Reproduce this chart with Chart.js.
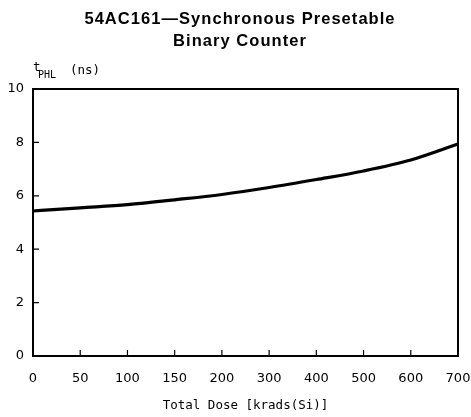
<!DOCTYPE html>
<html><head><meta charset="utf-8">
<script src="https://cdn.jsdelivr.net/npm/chart.js@4/dist/chart.umd.min.js"></script>
<style>html,body{margin:0;padding:0;background:#fff}#wrap{width:471px;height:417px}</style>
</head><body><div id="wrap"><canvas id="c" width="471" height="417"></canvas></div>
<script>
const titleLines = ["54AC161\u2014Synchronous Presetable", "Binary Counter"];
const doseLabels = ["0","50","100","150","200","300","400","500","600","700"];
const tphl = [5.43, 5.55, 5.67, 5.85, 6.05, 6.31, 6.61, 6.93, 7.34, 7.94];
const yTicks = [0, 2, 4, 6, 8, 10];
const xTitle = "Total Dose [krads(Si)]";

const MONO = "'DejaVu Sans Mono', monospace";
const SANS = "'DejaVu Sans', sans-serif";

const deco = {
  id: 'deco',
  afterDraw(chart) {
    const ctx = chart.ctx, a = chart.chartArea;
    const xs = chart.scales.x, ys = chart.scales.y;
    ctx.save();
    ctx.strokeStyle = '#000';
    ctx.lineWidth = 2;
    ctx.strokeRect(a.left, a.top, a.right - a.left, a.bottom - a.top);
    ctx.lineWidth = 1.2;
    ctx.beginPath();
    for (let i = 1; i < doseLabels.length - 1; i++) {
      const px = xs.getPixelForValue(i);
      ctx.moveTo(px, a.bottom); ctx.lineTo(px, a.bottom - 6);
    }
    for (const v of yTicks.slice(1, -1)) {
      const py = ys.getPixelForValue(v);
      ctx.moveTo(a.left, py); ctx.lineTo(a.left + 6, py);
    }
    ctx.stroke();
    ctx.fillStyle = '#000';
    ctx.textAlign = 'center';
    ctx.textBaseline = 'alphabetic';
    ctx.font = "bold 16.5px 'Liberation Sans', Arial, sans-serif";
    ctx.letterSpacing = '1.05px';
    ctx.fillText(titleLines[0], 240, 24);
    ctx.fillText(titleLines[1], 240, 46);
    ctx.letterSpacing = '0px';
    ctx.textBaseline = 'middle';
    ctx.textAlign = 'left';
    ctx.font = "12.5px " + MONO;
    ctx.fillText("t", 33, 68);
    ctx.font = "10px " + MONO;
    ctx.fillText("PHL", 38, 75);
    ctx.font = "12.5px " + MONO;
    ctx.fillText("(ns)", 70, 71);
    ctx.restore();
  }
};

new Chart(document.getElementById('c'), {
  type: 'line',
  data: {
    labels: doseLabels,
    datasets: [{
      data: tphl,
      borderColor: '#000',
      borderWidth: 3.2,
      pointRadius: 0,
      tension: 0.4,
      cubicInterpolationMode: 'monotone',
      fill: false
    }]
  },
  options: {
    responsive: false,
    animation: false,
    layout: { padding: { top: 89, right: 13, left: 0, bottom: 0 } },
    plugins: { legend: { display: false }, title: { display: false }, tooltip: { enabled: false } },
    scales: {
      x: {
        type: 'category',
        offset: false,
        grid: { display: false, drawTicks: false },
        border: { display: false },
        ticks: { color: '#000', padding: 15, maxRotation: 0, autoSkip: false, font: { family: SANS, size: 13 } },
        title: { display: true, text: xTitle, color: '#000', padding: { top: 6, bottom: 4 }, font: { family: MONO, size: 12.5 } },
        afterFit(s) { s.height = 61; s.paddingLeft = 0; s.paddingRight = 0; }
      },
      y: {
        min: 0, max: 10,
        afterBuildTicks(s) { s.ticks = yTicks.map(v => ({ value: v })); },
        grid: { display: false, drawTicks: false },
        border: { display: false },
        ticks: { color: '#000', padding: 9, font: { family: SANS, size: 13 } },
        afterFit(s) { s.width = 33; s.paddingTop = 0; s.paddingBottom = 0; }
      }
    }
  },
  plugins: [deco]
});
</script>
</body></html>
